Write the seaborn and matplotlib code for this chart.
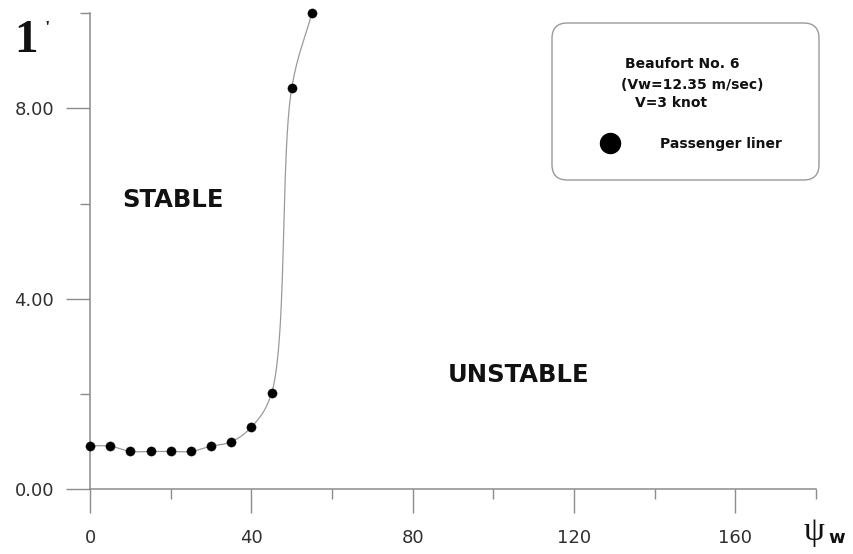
import numpy as np
import pandas as pd
import matplotlib
matplotlib.use("Agg")
import matplotlib.pyplot as plt
from matplotlib.patches import FancyBboxPatch
from matplotlib.lines import Line2D
from matplotlib.ticker import FixedLocator
import seaborn as sns

# Wind direction (deg) and the stability boundary value
psi_w = [0, 5, 10, 15, 20, 25, 30, 35, 40, 45, 50, 55]
r_crit = [0.91, 0.90, 0.79, 0.79, 0.79, 0.79, 0.90, 0.99, 1.30, 2.01, 8.42, 10.0]

x_major = [0, 40, 80, 120, 160]
x_minor = [20, 60, 100, 140, 180]
y_major = [0.0, 4.0, 8.0]
y_minor = [2.0, 6.0, 10.0]
y_labels = ["0.00", "4.00", "8.00"]

legend_lines = ["Beaufort No. 6", "(Vw=12.35 m/sec)", "V=3 knot"]
series_name = "Passenger liner"

W, H = 854, 554
AXIS_GREY = "#8c8c8c"

sns.set_style("white")
plt.rcParams["font.family"] = ["DejaVu Sans"]

fig = plt.figure(figsize=(W / 100, H / 100), dpi=100)


def px(x, y):
    """Pixel position (origin top-left) to figure fraction."""
    return x / W, 1 - y / H


ax = fig.add_axes([90 / W, 1 - 489 / H, (816 - 90) / W, (489 - 13.3) / H])
ax.set_xlim(0, 180)
ax.set_ylim(0, 10)

for s in ["top", "right"]:
    ax.spines[s].set_visible(False)
for s in ["left", "bottom"]:
    ax.spines[s].set_color(AXIS_GREY)
    ax.spines[s].set_linewidth(1.1)

ax.xaxis.set_major_locator(FixedLocator(x_major))
ax.xaxis.set_minor_locator(FixedLocator(x_minor))
ax.yaxis.set_major_locator(FixedLocator(y_major))
ax.yaxis.set_minor_locator(FixedLocator(y_minor))
ax.set_xticklabels([str(v) for v in x_major])
ax.set_yticklabels(y_labels)
ax.tick_params(axis="both", which="both", bottom=True, left=True,
               top=False, right=False)
ax.tick_params(axis="both", which="major", direction="out", length=17.5,
               width=1.0, color=AXIS_GREY, labelsize=13, labelcolor="#303030")
ax.tick_params(axis="both", which="minor", direction="out", length=7.5,
               width=1.0, color=AXIS_GREY)
ax.tick_params(axis="x", which="major", pad=11)
ax.tick_params(axis="y", which="major", pad=8.5)


def centripetal_catmull_rom(P, n=40, alpha=0.5):
    """Smooth curve through points P (display coordinates)."""
    ext = np.vstack([2 * P[0] - P[1], P, 2 * P[-1] - P[-2]])
    out = []
    for i in range(1, len(ext) - 2):
        p0, p1, p2, p3 = ext[i - 1:i + 3]
        t0 = 0.0
        t1 = t0 + max(np.linalg.norm(p1 - p0), 1e-6) ** alpha
        t2 = t1 + max(np.linalg.norm(p2 - p1), 1e-6) ** alpha
        t3 = t2 + max(np.linalg.norm(p3 - p2), 1e-6) ** alpha
        t = np.linspace(t1, t2, n)[:, None]
        a1 = (t1 - t) / (t1 - t0) * p0 + (t - t0) / (t1 - t0) * p1
        a2 = (t2 - t) / (t2 - t1) * p1 + (t - t1) / (t2 - t1) * p2
        a3 = (t3 - t) / (t3 - t2) * p2 + (t - t2) / (t3 - t2) * p3
        b1 = (t2 - t) / (t2 - t0) * a1 + (t - t0) / (t2 - t0) * a2
        b2 = (t3 - t) / (t3 - t1) * a2 + (t - t1) / (t3 - t1) * a3
        c = (t2 - t) / (t2 - t1) * b1 + (t - t1) / (t2 - t1) * b2
        out.append(c if i == 1 else c[1:])
    return np.vstack(out)


df = pd.DataFrame({"psi": psi_w, "r": r_crit})

# smooth boundary line drawn in screen space so the steep rise bends naturally
disp = ax.transData.transform(df[["psi", "r"]].to_numpy())
curve = ax.transData.inverted().transform(centripetal_catmull_rom(disp))
curve_df = pd.DataFrame({"psi": curve[:, 0], "r": curve[:, 1]})
sns.lineplot(data=curve_df, x="psi", y="r", sort=False, estimator=None,
             color="#9a9a9a", linewidth=0.9, ax=ax, clip_on=False)

sns.scatterplot(data=df, x="psi", y="r", color="black", s=44,
                edgecolor="black", linewidth=0.3, ax=ax, clip_on=False, zorder=3)
ax.set_xlabel("")
ax.set_ylabel("")

ax.text(20.6, 6.08, "STABLE", fontsize=17.5, fontweight="bold",
        ha="center", va="center", color="#111111")
ax.text(106.3, 2.39, "UNSTABLE", fontsize=17.5, fontweight="bold",
        ha="center", va="center", color="#111111")

# axis titles
fig.text(*px(14, 52), "1", family=["Liberation Serif"], fontsize=34,
         fontweight="bold", ha="left", va="baseline", color="#111111")
fig.text(*px(45, 34), "'", family=["Liberation Serif"], fontsize=14,
         fontweight="bold", ha="left", va="baseline", color="#222222")
fig.text(*px(804, 532), "ψ", family=["Liberation Serif", "DejaVu Serif"],
         fontsize=24, ha="left", va="center", color="#111111")
fig.text(*px(828, 543), "w", fontsize=13, fontweight="bold",
         ha="left", va="baseline", color="#111111")

# legend panel
x0, y0 = px(552, 180)
x1, y1 = px(819, 23)
box = FancyBboxPatch((x0, y0), x1 - x0, y1 - y0,
                     boxstyle="round,pad=0,rounding_size=0.018",
                     transform=fig.transFigure, facecolor="white",
                     edgecolor="#9a9a9a", linewidth=1.0,
                     mutation_aspect=W / H)
fig.add_artist(box)

for (lx, ly), line in zip([(625, 68), (621, 89), (635, 107)], legend_lines):
    fig.text(*px(lx, ly), line, fontsize=10, fontweight="bold",
             ha="left", va="baseline", color="#111111")

mx, my = px(610, 143)
fig.add_artist(Line2D([mx], [my], marker="o", markersize=14.4, color="black",
                      linestyle="none", transform=fig.transFigure))
fig.text(*px(660, 148), series_name, fontsize=10, fontweight="bold",
         ha="left", va="baseline", color="#111111")

fig.savefig("out.png", dpi=100)
